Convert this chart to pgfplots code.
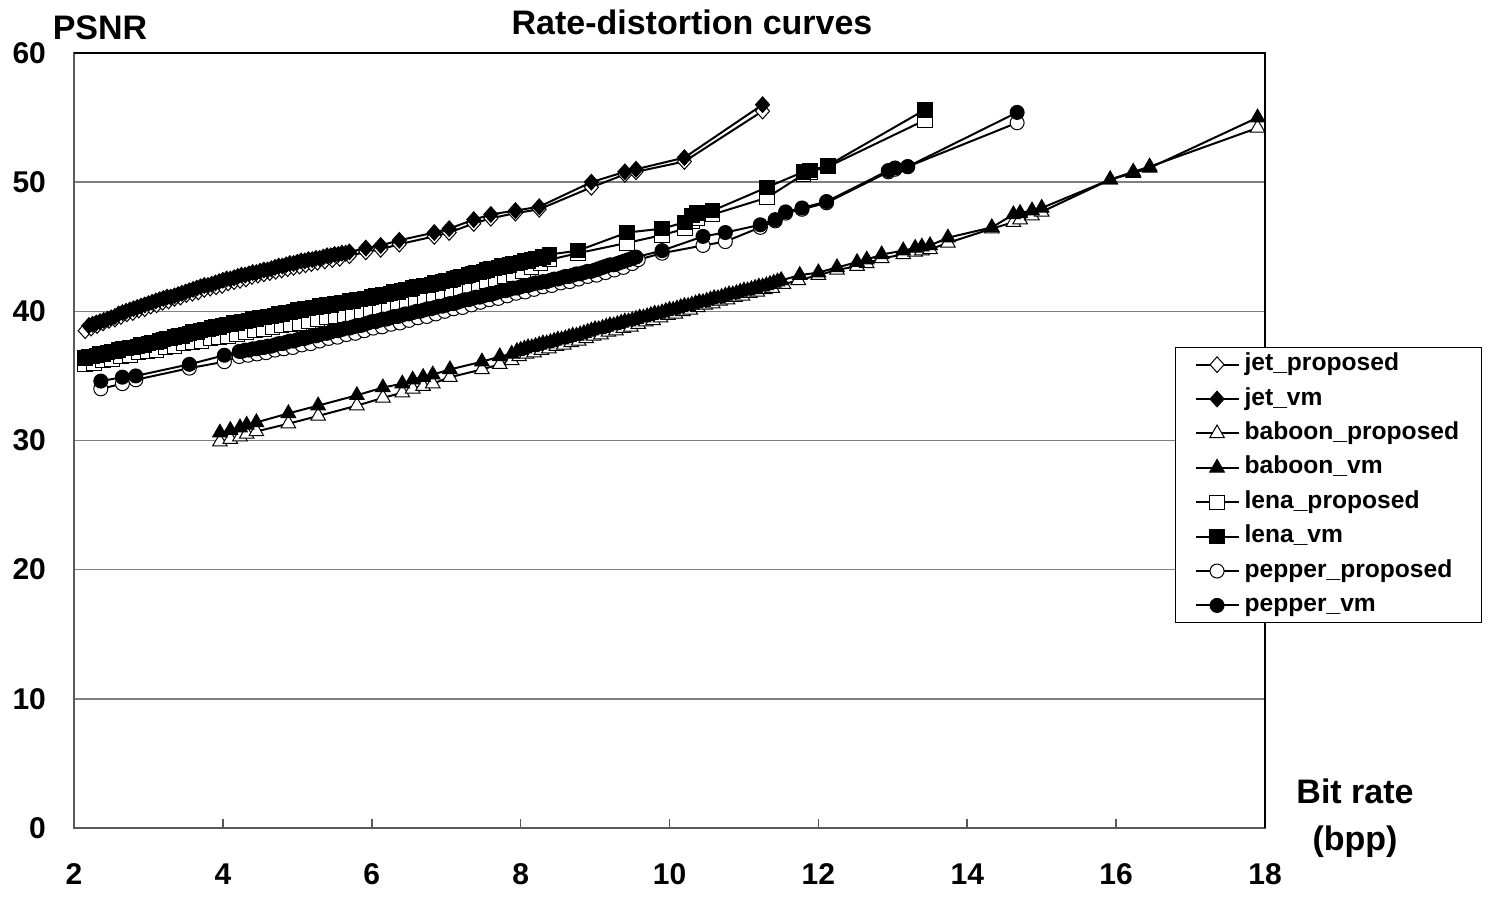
\documentclass[border=0pt]{standalone}
\usepackage{fontspec}
\setmainfont{Liberation Sans}
\usepackage{pgfplots}
\pgfplotsset{compat=1.18}

\begin{document}
\begin{tikzpicture}
\useasboundingbox (-37pt,-35.5pt) rectangle (708.5pt,414pt);
\begin{axis}[
    at={(0pt,0pt)}, anchor=south west,
    scale only axis, width=595.5pt, height=387.5pt,
    xmin=2, xmax=18, ymin=0, ymax=60,
    xtick={2,4,...,18}, ytick={0,10,...,60},
    tick align=inside, xtick pos=bottom, ytick pos=left,
    major tick length=4.5pt,
    xtick style={gray!70!black, line width=0.8pt},
    ytick style={draw=none},
    ymajorgrids, major grid style={gray, line width=0.8pt},
    axis line style={gray!70!black, line width=0.8pt},
    /pgf/number format/assume math mode=true,
    tick label style={font=\fontsize{15}{18}\selectfont\bfseries},
    xticklabel style={yshift=-13.5pt, text height=11pt, text depth=0pt},
    yticklabel style={xshift=-10.5pt},
    every axis plot/.append style={black, line width=1pt},
    legend cell align=left,
    legend style={at={(0.9244,0.6206)}, anchor=north west,
        draw=black, line width=0.6pt, fill=white,
        font=\fontsize{12.3}{14}\selectfont\bfseries,
        inner xsep=9.5pt, inner ysep=1pt, row sep=2.2pt, column sep=1pt,
        nodes={inner sep=1.5pt, text height=9pt, text depth=3pt}},
    legend image code/.code={
        \draw[mark repeat=2, mark phase=2, line width=1pt]
        plot coordinates {(0pt,0pt) (10.75pt,0pt) (21.5pt,0pt)};},
    clip=false,
]

\draw[black, line width=0.8pt] (rel axis cs:0,1) -- (rel axis cs:1,1) -- (rel axis cs:1,0);

% jet
\addplot[mark=diamond*, mark size=3.9pt, mark options={solid, xscale=1.2, fill=white, draw=black, line width=0.5pt}] coordinates {
(2.15,38.5)(2.23,38.7)(2.31,38.9)(2.39,39.1)(2.47,39.3)(2.55,39.4)(2.63,39.6)(2.71,39.8)(2.79,39.9)(2.87,40.1)
(2.95,40.2)(3.03,40.4)(3.11,40.5)(3.19,40.7)(3.27,40.8)(3.35,41.0)(3.43,41.1)(3.51,41.3)(3.59,41.4)(3.67,41.5)
(3.75,41.7)(3.83,41.8)(3.91,41.9)(3.99,42.0)(4.07,42.2)(4.15,42.3)(4.23,42.4)(4.31,42.5)(4.39,42.7)(4.47,42.8)
(4.55,42.9)(4.63,43.0)(4.71,43.1)(4.79,43.2)(4.87,43.3)(4.95,43.4)(5.03,43.5)(5.11,43.6)(5.19,43.7)(5.27,43.8)
(5.37,43.9)(5.47,44.0)(5.57,44.1)(5.70,44.3)(5.92,44.6)(6.12,44.8)(6.37,45.2)(6.84,45.8)(7.04,46.1)(7.37,46.8)
(7.60,47.2)(7.93,47.6)(8.25,47.9)(8.95,49.6)(9.40,50.6)(9.55,50.8)(10.20,51.6)(11.25,55.5)};
\addlegendentry{jet\_proposed}
\addplot[mark=diamond*, mark size=3.9pt, mark options={solid, xscale=1.2, fill=black, line width=0.5pt}] coordinates {
(2.20,38.9)(2.25,39.0)(2.30,39.1)(2.35,39.2)(2.40,39.3)(2.45,39.4)(2.50,39.5)(2.55,39.6)(2.60,39.8)(2.65,39.9)
(2.70,40.0)(2.75,40.1)(2.80,40.2)(2.85,40.3)(2.90,40.4)(2.95,40.5)(3.00,40.6)(3.05,40.7)(3.10,40.8)(3.15,40.9)
(3.20,41.0)(3.25,41.1)(3.30,41.1)(3.35,41.2)(3.40,41.3)(3.45,41.4)(3.50,41.5)(3.55,41.6)(3.60,41.7)(3.65,41.8)
(3.70,41.9)(3.75,42.0)(3.80,42.0)(3.85,42.1)(3.90,42.2)(3.95,42.3)(4.00,42.4)(4.05,42.5)(4.10,42.5)(4.15,42.6)
(4.20,42.7)(4.25,42.8)(4.30,42.8)(4.35,42.9)(4.40,43.0)(4.45,43.0)(4.50,43.1)(4.55,43.2)(4.60,43.2)(4.65,43.3)
(4.70,43.4)(4.75,43.5)(4.80,43.5)(4.85,43.6)(4.90,43.7)(4.95,43.7)(5.00,43.8)(5.05,43.9)(5.10,43.9)(5.15,44.0)
(5.20,44.0)(5.25,44.1)(5.30,44.1)(5.35,44.2)(5.40,44.3)(5.45,44.3)(5.50,44.4)(5.55,44.4)(5.60,44.5)(5.65,44.5)
(5.70,44.6)(5.92,44.9)(6.12,45.1)(6.37,45.5)(6.84,46.1)(7.04,46.4)(7.37,47.1)(7.60,47.5)(7.93,47.8)(8.25,48.1)
(8.95,50.0)(9.40,50.8)(9.55,51.0)(10.20,51.9)(11.25,56.0)};
\addlegendentry{jet\_vm}

% baboon
\addplot[mark=triangle*, mark size=4.2pt, mark options={solid, fill=white, draw=black, line width=0.5pt}] coordinates {
(3.96,29.9)(4.10,30.1)(4.23,30.3)(4.32,30.5)(4.45,30.7)(4.88,31.3)(5.28,31.9)(5.80,32.7)(6.15,33.3)(6.41,33.7)
(6.55,34.0)(6.69,34.2)(6.82,34.4)(7.05,34.9)(7.48,35.5)(7.72,35.9)(7.88,36.2)(7.98,36.5)(8.08,36.7)(8.18,36.8)
(8.28,37.0)(8.38,37.1)(8.48,37.3)(8.58,37.4)(8.68,37.6)(8.78,37.7)(8.88,37.9)(8.98,38.1)(9.08,38.2)(9.18,38.4)
(9.28,38.5)(9.38,38.7)(9.48,38.8)(9.58,39.0)(9.68,39.2)(9.78,39.3)(9.88,39.5)(9.98,39.7)(10.08,39.8)(10.18,40.0)
(10.28,40.1)(10.38,40.3)(10.48,40.5)(10.58,40.6)(10.68,40.8)(10.78,40.9)(10.88,41.1)(10.98,41.2)(11.08,41.4)(11.18,41.5)
(11.28,41.7)(11.38,41.8)(11.53,42.1)(11.73,42.4)(12.00,42.8)(12.25,43.2)(12.52,43.5)(12.65,43.7)(12.85,44.1)(13.14,44.4)
(13.30,44.6)(13.39,44.7)(13.50,44.8)(13.74,45.3)(14.33,46.4)(14.62,46.9)(14.71,47.1)(14.87,47.4)(15.00,47.7)(15.92,50.2)
(16.23,50.8)(16.45,51.2)(17.90,54.2)};
\addlegendentry{baboon\_proposed}
\addplot[mark=triangle*, mark size=4.2pt, mark options={solid, fill=black, line width=0.5pt}] coordinates {
(3.96,30.6)(4.10,30.8)(4.23,31.0)(4.32,31.2)(4.45,31.4)(4.88,32.1)(5.28,32.7)(5.80,33.5)(6.15,34.1)(6.41,34.4)
(6.55,34.7)(6.69,34.9)(6.82,35.1)(7.05,35.5)(7.48,36.1)(7.72,36.5)(7.88,36.7)(7.95,36.9)(8.00,37.0)(8.05,37.1)
(8.10,37.2)(8.15,37.2)(8.20,37.3)(8.25,37.4)(8.30,37.5)(8.35,37.5)(8.40,37.6)(8.45,37.7)(8.50,37.8)(8.55,37.8)
(8.60,37.9)(8.65,38.0)(8.70,38.1)(8.75,38.1)(8.80,38.2)(8.85,38.3)(8.90,38.4)(8.95,38.5)(9.00,38.6)(9.05,38.6)
(9.10,38.7)(9.15,38.8)(9.20,38.9)(9.25,38.9)(9.30,39.0)(9.35,39.1)(9.40,39.2)(9.45,39.2)(9.50,39.3)(9.55,39.4)
(9.60,39.5)(9.65,39.5)(9.70,39.6)(9.75,39.7)(9.80,39.8)(9.85,39.8)(9.90,39.9)(9.95,40.0)(10.00,40.1)(10.05,40.1)
(10.10,40.2)(10.15,40.3)(10.20,40.4)(10.25,40.4)(10.30,40.5)(10.35,40.6)(10.40,40.7)(10.45,40.7)(10.50,40.8)(10.55,40.9)
(10.60,41.0)(10.65,41.0)(10.70,41.1)(10.75,41.2)(10.80,41.3)(10.85,41.3)(10.90,41.4)(10.95,41.5)(11.00,41.6)(11.05,41.6)
(11.10,41.7)(11.15,41.8)(11.20,41.9)(11.25,41.9)(11.30,42.0)(11.35,42.1)(11.40,42.2)(11.45,42.3)(11.50,42.4)(11.75,42.8)
(12.00,43.0)(12.25,43.4)(12.52,43.8)(12.65,44.0)(12.85,44.4)(13.14,44.7)(13.30,44.9)(13.39,45.0)(13.50,45.1)(13.74,45.7)
(14.33,46.5)(14.62,47.5)(14.71,47.6)(14.87,47.8)(15.00,48.0)(15.92,50.2)(16.23,50.7)(16.45,51.1)(17.90,55.0)};
\addlegendentry{baboon\_vm}

% lena
\addplot[mark=square*, mark size=3.6pt, mark options={solid, fill=white, draw=black, line width=0.5pt}] coordinates {
(2.15,35.9)(2.27,36.0)(2.39,36.2)(2.51,36.3)(2.63,36.5)(2.75,36.6)(2.87,36.8)(2.99,36.9)(3.11,37.0)(3.23,37.2)
(3.35,37.3)(3.47,37.5)(3.59,37.6)(3.71,37.7)(3.83,37.9)(3.95,38.0)(4.07,38.1)(4.19,38.2)(4.31,38.4)(4.43,38.5)
(4.55,38.6)(4.67,38.8)(4.79,38.9)(4.91,39.0)(5.03,39.1)(5.15,39.2)(5.27,39.4)(5.39,39.5)(5.51,39.6)(5.63,39.7)
(5.75,39.8)(5.87,40.0)(5.99,40.1)(6.11,40.3)(6.23,40.4)(6.35,40.6)(6.47,40.7)(6.59,40.9)(6.71,41.0)(6.83,41.2)
(6.95,41.4)(7.07,41.6)(7.19,41.7)(7.31,41.9)(7.43,42.1)(7.55,42.3)(7.67,42.5)(7.79,42.7)(7.91,42.9)(8.03,43.1)
(8.15,43.4)(8.27,43.7)(8.39,44.0)(8.77,44.5)(9.43,45.3)(9.90,45.9)(10.21,46.4)(10.30,47.0)(10.37,47.2)(10.58,47.5)
(11.31,48.8)(11.80,50.6)(11.89,50.8)(12.13,51.2)(13.43,54.8)};
\addlegendentry{lena\_proposed}
\addplot[mark=square*, mark size=3.6pt, mark options={solid, fill=black, line width=0.5pt}] coordinates {
(2.15,36.4)(2.20,36.5)(2.25,36.5)(2.30,36.6)(2.35,36.7)(2.40,36.7)(2.45,36.8)(2.50,36.9)(2.55,36.9)(2.60,37.0)
(2.65,37.1)(2.70,37.1)(2.75,37.2)(2.80,37.2)(2.85,37.3)(2.90,37.4)(2.95,37.4)(3.00,37.5)(3.05,37.6)(3.10,37.6)
(3.15,37.7)(3.20,37.8)(3.25,37.9)(3.30,37.9)(3.35,38.0)(3.40,38.1)(3.45,38.1)(3.50,38.2)(3.55,38.3)(3.60,38.4)
(3.65,38.4)(3.70,38.5)(3.75,38.6)(3.80,38.6)(3.85,38.7)(3.90,38.8)(3.95,38.8)(4.00,38.9)(4.05,39.0)(4.10,39.0)
(4.15,39.1)(4.20,39.1)(4.25,39.2)(4.30,39.2)(4.35,39.3)(4.40,39.4)(4.45,39.4)(4.50,39.5)(4.55,39.5)(4.60,39.6)
(4.65,39.6)(4.70,39.7)(4.75,39.8)(4.80,39.8)(4.85,39.9)(4.90,39.9)(4.95,40.0)(5.00,40.1)(5.05,40.1)(5.10,40.2)
(5.15,40.2)(5.20,40.3)(5.25,40.3)(5.30,40.4)(5.35,40.4)(5.40,40.5)(5.45,40.5)(5.50,40.6)(5.55,40.6)(5.60,40.7)
(5.65,40.7)(5.70,40.8)(5.75,40.8)(5.80,40.9)(5.85,40.9)(5.90,41.0)(5.95,41.0)(6.00,41.1)(6.05,41.2)(6.10,41.2)
(6.15,41.3)(6.20,41.3)(6.25,41.4)(6.30,41.5)(6.35,41.5)(6.40,41.6)(6.45,41.7)(6.50,41.7)(6.55,41.8)(6.60,41.9)
(6.65,41.9)(6.70,42.0)(6.75,42.0)(6.80,42.1)(6.85,42.2)(6.90,42.2)(6.95,42.3)(7.00,42.4)(7.05,42.4)(7.10,42.5)
(7.15,42.6)(7.20,42.7)(7.25,42.7)(7.30,42.8)(7.35,42.9)(7.40,43.0)(7.45,43.0)(7.50,43.1)(7.55,43.2)(7.60,43.3)
(7.65,43.3)(7.70,43.4)(7.75,43.5)(7.80,43.5)(7.85,43.6)(7.90,43.7)(7.95,43.7)(8.00,43.8)(8.05,43.9)(8.10,43.9)
(8.15,44.0)(8.20,44.1)(8.25,44.1)(8.30,44.2)(8.39,44.4)(8.77,44.7)(9.43,46.1)(9.90,46.4)(10.21,46.9)(10.30,47.4)
(10.37,47.6)(10.58,47.8)(11.31,49.6)(11.80,50.8)(11.89,50.9)(12.13,51.3)(13.43,55.6)};
\addlegendentry{lena\_vm}

% pepper
\addplot[mark=*, mark size=3.5pt, mark options={solid, fill=white, draw=black, line width=0.5pt}] coordinates {
(2.36,34.0)(2.65,34.4)(2.83,34.7)(3.55,35.6)(4.02,36.1)(4.22,36.5)(4.34,36.6)(4.46,36.7)(4.58,36.8)(4.70,37.0)
(4.82,37.1)(4.94,37.2)(5.06,37.4)(5.18,37.5)(5.30,37.7)(5.42,37.9)(5.54,38.0)(5.66,38.2)(5.78,38.3)(5.90,38.5)
(6.02,38.7)(6.14,38.8)(6.26,39.0)(6.38,39.1)(6.50,39.3)(6.62,39.5)(6.74,39.6)(6.86,39.8)(6.98,40.0)(7.10,40.2)
(7.22,40.3)(7.34,40.5)(7.46,40.7)(7.58,40.9)(7.70,41.0)(7.82,41.2)(7.94,41.4)(8.06,41.5)(8.18,41.7)(8.30,41.9)
(8.42,42.0)(8.54,42.2)(8.66,42.3)(8.78,42.5)(8.90,42.7)(9.02,42.8)(9.14,43.0)(9.26,43.2)(9.38,43.4)(9.50,43.7)
(9.58,44.0)(9.90,44.5)(10.45,45.1)(10.75,45.4)(11.22,46.5)(11.42,47.0)(11.56,47.6)(11.78,47.9)(12.11,48.4)(12.94,50.8)
(13.03,51.0)(13.20,51.2)(14.67,54.6)};
\addlegendentry{pepper\_proposed}
\addplot[mark=*, mark size=3.5pt, mark options={solid, fill=black, line width=0.5pt}] coordinates {
(2.36,34.6)(2.65,34.9)(2.83,35.0)(3.55,35.9)(4.02,36.6)(4.22,36.9)(4.25,36.9)(4.30,37.0)(4.35,37.0)(4.40,37.1)
(4.45,37.1)(4.50,37.2)(4.55,37.2)(4.60,37.3)(4.65,37.3)(4.70,37.4)(4.75,37.5)(4.80,37.5)(4.85,37.6)(4.90,37.7)
(4.95,37.7)(5.00,37.8)(5.05,37.9)(5.10,37.9)(5.15,38.0)(5.20,38.1)(5.25,38.1)(5.30,38.2)(5.35,38.3)(5.40,38.3)
(5.45,38.4)(5.50,38.5)(5.55,38.5)(5.60,38.6)(5.65,38.7)(5.70,38.7)(5.75,38.8)(5.80,38.9)(5.85,38.9)(5.90,39.0)
(5.95,39.1)(6.00,39.2)(6.05,39.2)(6.10,39.3)(6.15,39.4)(6.20,39.4)(6.25,39.5)(6.30,39.6)(6.35,39.6)(6.40,39.7)
(6.45,39.8)(6.50,39.8)(6.55,39.9)(6.60,40.0)(6.65,40.0)(6.70,40.1)(6.75,40.2)(6.80,40.2)(6.85,40.3)(6.90,40.4)
(6.95,40.4)(7.00,40.5)(7.05,40.6)(7.10,40.6)(7.15,40.7)(7.20,40.8)(7.25,40.9)(7.30,40.9)(7.35,41.0)(7.40,41.1)
(7.45,41.1)(7.50,41.2)(7.55,41.3)(7.60,41.3)(7.65,41.4)(7.70,41.5)(7.75,41.6)(7.80,41.6)(7.85,41.7)(7.90,41.8)
(7.95,41.8)(8.00,41.9)(8.05,42.0)(8.10,42.0)(8.15,42.1)(8.20,42.2)(8.25,42.2)(8.30,42.3)(8.35,42.3)(8.40,42.4)
(8.45,42.5)(8.50,42.5)(8.55,42.6)(8.60,42.7)(8.65,42.7)(8.70,42.8)(8.75,42.9)(8.80,42.9)(8.85,43.0)(8.90,43.1)
(8.95,43.1)(9.00,43.2)(9.05,43.3)(9.10,43.4)(9.15,43.5)(9.20,43.6)(9.25,43.6)(9.30,43.7)(9.35,43.8)(9.40,43.9)
(9.45,44.0)(9.50,44.1)(9.55,44.2)(9.90,44.7)(10.45,45.8)(10.75,46.1)(11.22,46.7)(11.42,47.1)(11.56,47.7)(11.78,48.0)
(12.11,48.5)(12.94,50.9)(13.03,51.1)(13.20,51.2)(14.67,55.4)};
\addlegendentry{pepper\_vm}

\end{axis}

\node[font=\fontsize{17}{20}\selectfont\bfseries] at (309pt,403pt) {Rate-distortion curves};
\node[font=\fontsize{17}{20}\selectfont\bfseries] at (13pt,400pt) {PSNR};
\node[align=center, font=\fontsize{17}{23.5}\selectfont\bfseries] at (640.5pt,5pt) {Bit rate\\(bpp)};
\end{tikzpicture}
\end{document}
